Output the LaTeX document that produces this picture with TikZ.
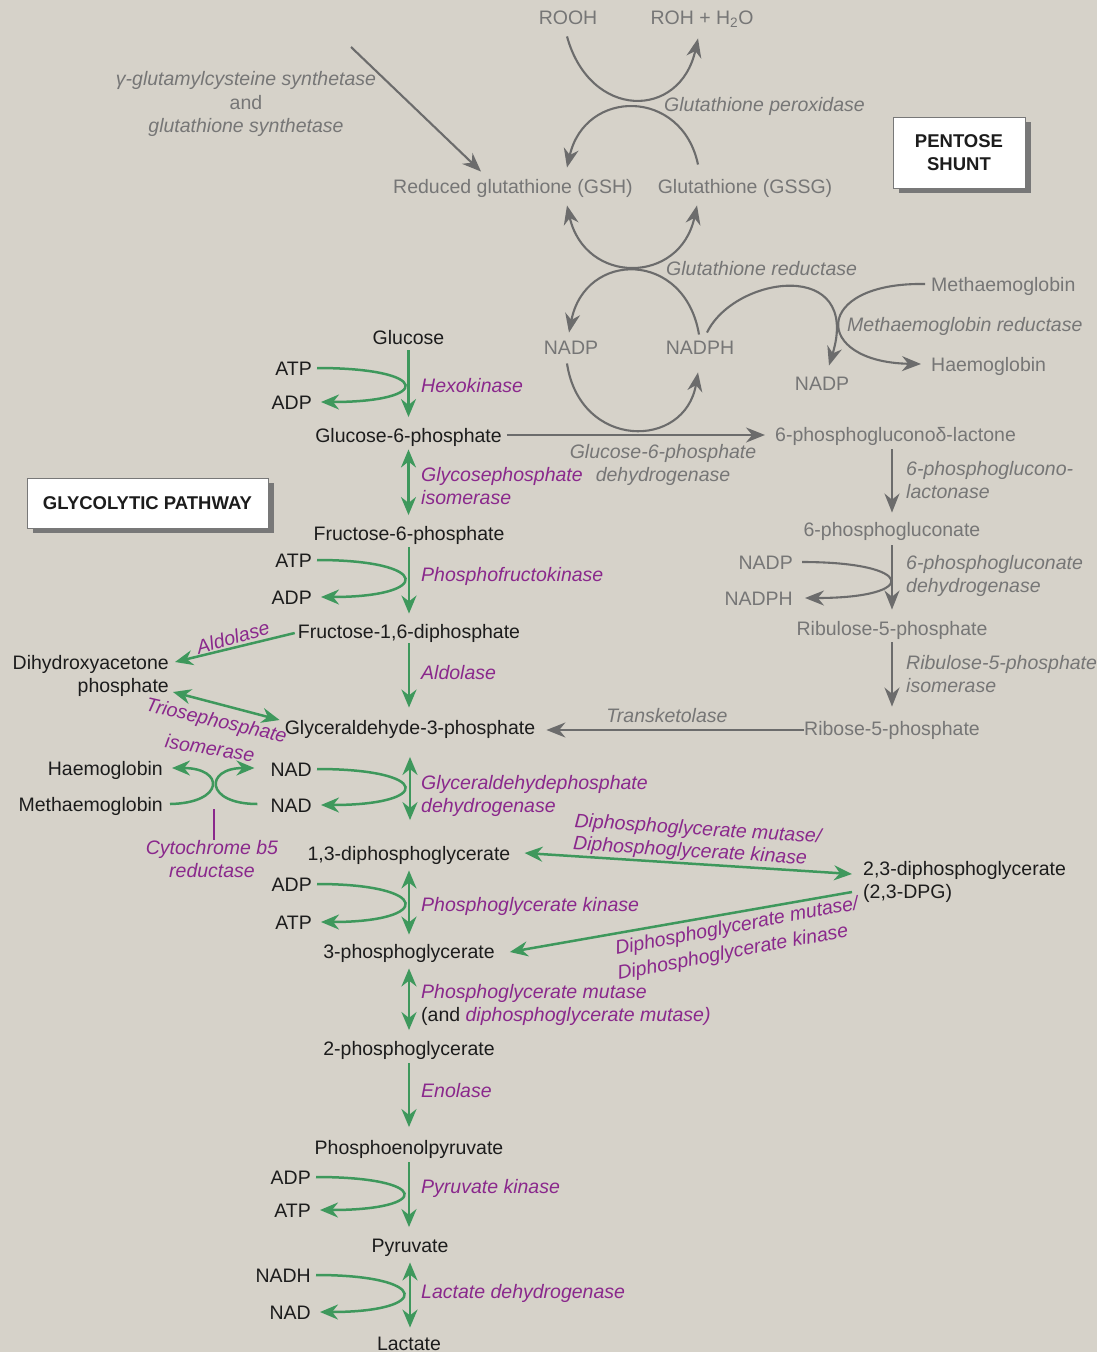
\documentclass[tikz,border=0pt]{standalone}
\usepackage{fontspec}
\setmainfont{Liberation Sans}
\usetikzlibrary{arrows.meta,calc,shadows}
\definecolor{bgc}{RGB}{214,210,201}
\definecolor{blk}{RGB}{28,28,28}
\definecolor{gtx}{RGB}{118,118,118}
\definecolor{gar}{RGB}{108,108,108}
\definecolor{pur}{RGB}{138,40,140}
\definecolor{grn}{RGB}{62,152,92}
\definecolor{shd}{RGB}{120,120,120}
\newcommand\hookarrow[2]{\draw[garr] ([shift={(5,-2)}]#1.east) .. controls +(115,0) and +(112,0) .. ([shift={(9,-2)}]#2.east);}
\begin{document}
\begin{tikzpicture}[x=1pt,y=-1pt,
  lbl/.style={inner sep=0pt,text height=14.5pt,text depth=4pt,font=\fontsize{19.5}{23.5}\selectfont,text=blk},
  lbltwo/.style={inner sep=0pt,font=\fontsize{19.5}{23.5}\selectfont,text=blk},
  glbl/.style={lbl,text=gtx},
  enz/.style={inner sep=0pt,anchor=west,align=left,font=\fontsize{19.5}{23.5}\selectfont\itshape,text=pur},
  genz/.style={enz,text=gtx},
  garr/.style={draw=grn,line width=2.5pt,-{Stealth[length=18pt,width=15pt]}},
  gdbl/.style={draw=grn,line width=2.5pt,{Stealth[length=18pt,width=15pt]}-{Stealth[length=18pt,width=15pt]}},
  grarr/.style={draw=gar,line width=2.1pt,-{Stealth[length=19pt,width=15pt]}},
  grdbl/.style={draw=gar,line width=2.1pt,{Stealth[length=19pt,width=15pt]}-{Stealth[length=19pt,width=15pt]}},
  boxs/.style={draw=shd,line width=0.9pt,fill=white,inner sep=0pt,align=center,
    font=\fontsize{18.5}{23}\selectfont\bfseries,text=blk,
    drop shadow={shadow xshift=6pt,shadow yshift=-5pt,fill=shd,opacity=1,draw=none}}
]
\fill[bgc] (0,0) rectangle (1097,1352);
\useasboundingbox (0,0) rectangle (1097,1352);

% ---------------- glycolysis metabolites
\node[lbl] (glc) at (408.5,339) {Glucose};
\node[lbl,anchor=east] (atpA) at (312,370) {ATP};
\node[lbl,anchor=east] (adpA) at (312,404) {ADP};
\node[lbl] (g6p) at (408.5,437) {Glucose-6-phosphate};
\node[lbl] (f6p) at (409,535) {Fructose-6-phosphate};
\node[lbl,anchor=east] (atpB) at (312,562) {ATP};
\node[lbl,anchor=east] (adpB) at (312,599) {ADP};
\node[lbl] (f16) at (409,633) {Fructose-1,6-diphosphate};
\node[lbltwo,anchor=east,align=right] (dhap) at (169,676) {Dihydroxyacetone\\phosphate};
\node[lbl] (ga3p) at (410,729) {Glyceraldehyde-3-phosphate};
\node[lbl,anchor=east] (hbA) at (163,770) {Haemoglobin};
\node[lbl,anchor=east] (mhbA) at (163,806) {Methaemoglobin};
\node[lbl,anchor=east] (nadA) at (312,771) {NAD};
\node[lbl,anchor=east] (nadB) at (312,807) {NAD};
\node[lbl] (bpg) at (409,855) {1,3-diphosphoglycerate};
\node[lbltwo,anchor=west,align=left] (dpg) at (863,882) {2,3-diphosphoglycerate\\(2,3-DPG)};
\node[lbl,anchor=east] (adpC) at (312,886) {ADP};
\node[lbl,anchor=east] (atpC) at (312,924) {ATP};
\node[lbl] (pg3) at (409,953) {3-phosphoglycerate};
\node[lbl] (pg2) at (409,1050) {2-phosphoglycerate};
\node[lbl] (pep) at (409,1149) {Phosphoenolpyruvate};
\node[lbl,anchor=east] (adpD) at (311,1179) {ADP};
\node[lbl,anchor=east] (atpD) at (311,1212) {ATP};
\node[lbl] (pyr) at (410,1247) {Pyruvate};
\node[lbl,anchor=east] (nadhE) at (311,1277) {NADH};
\node[lbl,anchor=east] (nadE) at (311,1314) {NAD};
\node[lbl] (lac) at (409,1345) {Lactate};

% ---------------- pentose shunt metabolites
\node[glbl] (rooh) at (568,19) {ROOH};
\node[glbl] (roh) at (702,19) {ROH + H\textsubscript{2}O};
\node[glbl] (gsh) at (513,188) {Reduced glutathione (GSH)};
\node[glbl] (gssg) at (745,188) {Glutathione (GSSG)};
\node[glbl] (nadpA) at (571,349) {NADP};
\node[glbl] (nadph) at (700,349) {NADPH};
\node[glbl] (nadpB) at (822,385) {NADP};
\node[glbl,anchor=west] (mhbB) at (931,286) {Methaemoglobin};
\node[glbl,anchor=west] (hbB) at (931,366) {Haemoglobin};
\node[glbl,anchor=west] (lact) at (775,436) {6-phosphogluconoδ-lactone};
\node[glbl] (pgl) at (892,531) {6-phosphogluconate};
\node[glbl,anchor=east] (nadpC) at (793,564) {NADP};
\node[glbl,anchor=east] (nadphC) at (793,600) {NADPH};
\node[glbl] (ru5p) at (892,630) {Ribulose-5-phosphate};
\node[glbl] (r5p) at (892,730) {Ribose-5-phosphate};

% ---------------- boxes
\node[boxs,minimum width=132pt,minimum height=71pt] (pent) at (959,152.5) {PENTOSE\\SHUNT};
\node[boxs,minimum width=241pt,minimum height=50pt] (glyb) at (147.5,503) {GLYCOLYTIC PATHWAY};

% ---------------- enzyme labels (grey)
\node[genz,anchor=center,align=center] (gamlbl) at (246,104) {{\itshape γ-glutamylcysteine synthetase}\\{\upshape and}\\{\itshape glutathione synthetase}};
\node[genz] (gpx) at (664,106) {Glutathione peroxidase};
\node[genz] (grd) at (666,269) {Glutathione reductase};
\node[genz] (mhr) at (847,326) {Methaemoglobin reductase};
\node[genz,anchor=center,align=center] (g6pd) at (663,465) {Glucose-6-phosphate\\dehydrogenase};
\node[genz] (pglase) at (906,480) {6-phosphoglucono-\\lactonase};
\node[genz] (pgdh) at (906,576) {6-phosphogluconate\\dehydrogenase};
\node[genz] (rpi) at (906,674) {Ribulose-5-phosphate\\isomerase};
\node[genz,anchor=center] (tkt) at (667,716) {Transketolase};

% ---------------- enzyme labels (purple)
\node[enz] (hex) at (421,386) {Hexokinase};
\node[enz] (gpi) at (421,486) {Glycosephosphate\\isomerase};
\node[enz] (pfk) at (421,576) {Phosphofructokinase};
\node[enz,anchor=center,rotate=16] (aldA) at (233,637) {Aldolase};
\node[enz] (aldB) at (421,673) {Aldolase};
\node[enz,anchor=center,rotate=-13] (tpiA) at (216,722) {Triosephosphate};
\node[enz,anchor=center,rotate=-9] (tpiB) at (210,748) {isomerase};
\node[enz] (gapdh) at (421,796) {Glyceraldehydephosphate\\dehydrogenase};
\node[enz,anchor=center,align=center] (cyt) at (212,859) {Cytochrome b5\\reductase};
\node[enz,anchor=center,rotate=-3.7] (dpgmA) at (698,830) {Diphosphoglycerate mutase/};
\node[enz,anchor=center,rotate=-3.7] (dpgkA) at (690,852) {Diphosphoglycerate kinase};
\node[enz,anchor=center,rotate=10.7] (dpgmB) at (737,927) {Diphosphoglycerate mutase/};
\node[enz,anchor=center,rotate=10.7] (dpgkB) at (733,953) {Diphosphoglycerate kinase};
\node[enz] (pgk) at (421,906) {Phosphoglycerate kinase};
\node[enz] (pgm) at (421,1005) {Phosphoglycerate mutase\\{\upshape\color{blk}(and} diphosphoglycerate mutase)};
\node[enz] (eno) at (421,1091) {Enolase};
\node[enz] (pk) at (421,1188) {Pyruvate kinase};
\node[enz] (ldh) at (421,1293) {Lactate dehydrogenase};

% ---------------- glycolysis arrows
\draw[garr,shorten <=2pt,shorten >=10.5pt] (glc.south) -- (glc.south |- g6p.north);
\draw[gdbl,shorten <=3pt,shorten >=10.5pt] (g6p.south) -- (g6p.south |- f6p.north);
\draw[garr,shorten <=3pt,shorten >=10pt] (f6p.south) -- (f6p.south |- f16.north);
\draw[garr,shorten <=1pt,shorten >=12pt] (f16.south) -- (f16.south |- ga3p.north);
\draw[gdbl,shorten <=18.5pt,shorten >=25.5pt] (ga3p.south) -- (ga3p.south |- bpg.north);
\draw[gdbl,shorten <=6pt,shorten >=9pt] (bpg.south) -- (bpg.south |- pg3.north);
\draw[gdbl,shorten <=6pt,shorten >=10.5pt] (pg3.south) -- (pg3.south |- pg2.north);
\draw[garr,shorten <=4pt,shorten >=12.5pt] (pg2.south) -- (pg2.south |- pep.north);
\draw[garr,shorten <=4pt,shorten >=10.5pt] (pep.south) -- (pep.south |- pyr.north);
\draw[gdbl,shorten <=6pt,shorten >=8pt] (pyr.south) -- (pyr.south |- lac.north);

\hookarrow{atpA}{adpA}
\hookarrow{atpB}{adpB}
\hookarrow{nadA}{nadB}
\hookarrow{adpC}{atpC}
\hookarrow{adpD}{atpD}
\hookarrow{nadhE}{nadE}

\draw[garr] ([xshift=-3pt]f16.west) -- ([shift={(6,-14)}]dhap.east);
\draw[gdbl] ([shift={(4,16)}]dhap.east) -- ([shift={(-5,-9)}]ga3p.west);

\draw[garr] ([shift={(7,-2)}]mhbA.east) .. controls +(55,-1) and +(53,0) .. ([shift={(9,-2)}]hbA.east);
\draw[garr] ([shift={(-13,-3)}]nadB.west) .. controls +(-53,0) and +(-50,0) .. ([shift={(-16,-3)}]nadA.west);
\coordinate (cybtop) at (214,809);
\draw[pur,line width=2pt] (cybtop) -- (cybtop |- cyt.north);

\draw[gdbl] ([shift={(14,-2)}]bpg.east) -- ([shift={(-11,-8)}]dpg.west);
\draw[garr] ([shift={(-11,10)}]dpg.west) -- ([shift={(15,-1)}]pg3.east);

% ---------------- pentose shunt arrows
\coordinate (gstart) at (351,47);
\draw[grarr] (gstart) -- ([shift={(88,-7)}]gsh.north west);
\draw[grarr] ([shift={(-1,8)}]rooh.south) .. controls (590,120) and (680,120) .. ([shift={(-4,10)}]roh.south);
\draw[grarr] ([shift={(-47,-14)}]gssg.north) .. controls (682,88) and (585,88) .. ([shift={(54,-11)}]gsh.north);
\draw[grdbl] ([shift={(54,8)}]gsh.south) .. controls (585,285) and (680,285) .. ([shift={(-48,8)}]gssg.south);
\draw[grarr] ([shift={(-1,-5)}]nadph.north) .. controls (685,250) and (585,250) .. ([shift={(-2,-7)}]nadpA.north);
\draw[grarr] ([shift={(-4,5)}]nadpA.south) .. controls (580,450) and (685,450) .. ([shift={(-2,14)}]nadph.south);
\draw[grarr] ([shift={(7,-7)}]nadph.north) .. controls (735,275) and (862,258) .. ([shift={(7,-10)}]nadpB.north);
\draw[grarr] ([shift={(-6,-2)}]mhbB.west) .. controls (812,282) and (812,362) .. ([shift={(-10,-2)}]hbB.west);

\draw[grarr] ($(g6p.east)+(5,-2)$) -- ($(g6p.east -| lact.west)+(-10,-2)$);
\draw[grarr,shorten <=4pt,shorten >=9pt] (pgl.north |- lact.south) -- (pgl.north);
\draw[grarr,shorten <=5pt,shorten >=11pt] (pgl.south) -- (pgl.south |- ru5p.north);
\draw[grarr,shorten <=3pt,shorten >=14pt] (ru5p.south) -- (ru5p.south |- r5p.north);
\draw[grarr] ([shift={(9,-2)}]nadpC.east) .. controls +(115,0) and +(115,0) .. ([shift={(12,-2)}]nadphC.east);
\draw[grarr,shorten >=11pt] (r5p.west) -- (r5p.west -| ga3p.east);
\end{tikzpicture}
\end{document}
